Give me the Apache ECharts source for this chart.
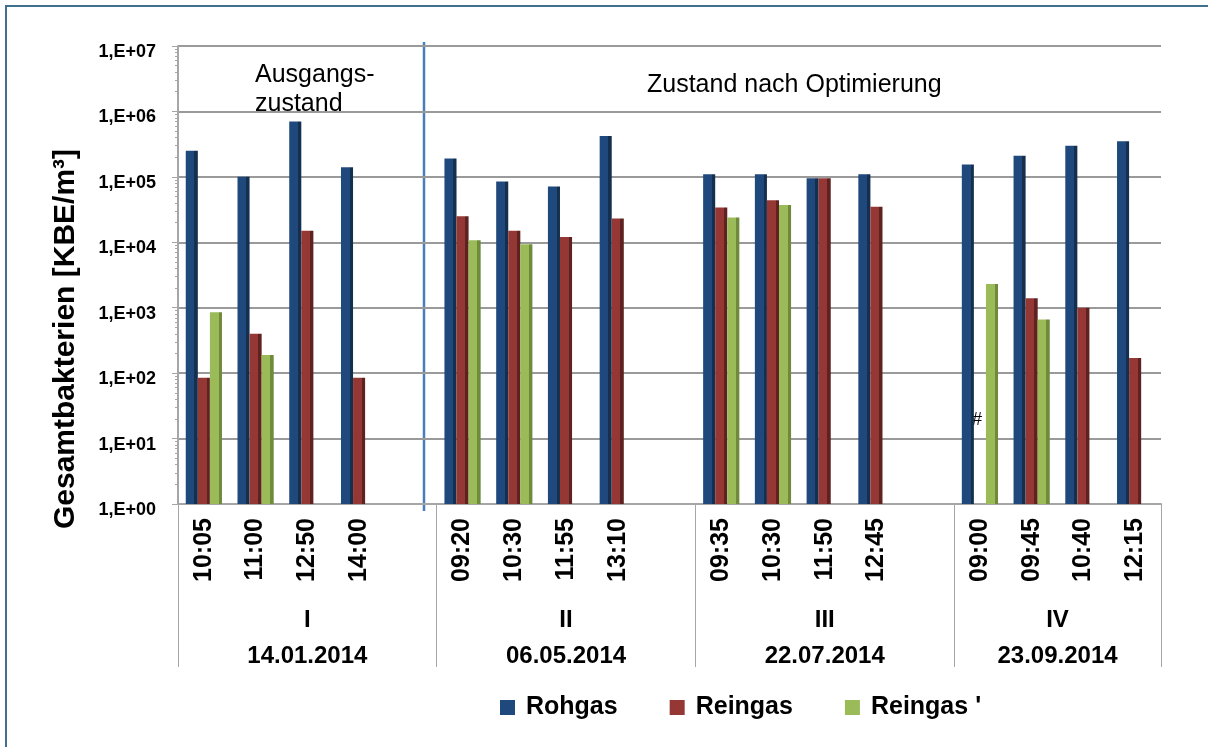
<!DOCTYPE html>
<html>
<head>
<meta charset="utf-8">
<script src="https://cdn.jsdelivr.net/npm/echarts@6/dist/echarts.min.js"></script>
<style>
  html, body { margin: 0; padding: 0; background: #fff; }
  #chart { width: 1208px; height: 747px; }
</style>
</head>
<body>
<div id="chart"></div>
<script>
// Messzeitpunkte (leere Einträge = Abstand zwischen den Messtagen)
const times = ['10:05', '11:00', '12:50', '14:00', '',
  '09:20', '10:30', '11:55', '13:10', '',
  '09:35', '10:30', '11:50', '12:45', '',
  '09:00', '09:45', '10:40', '12:15']

const groupLabels = ['I\n14.01.2014', 'II\n06.05.2014', 'III\n22.07.2014', 'IV\n23.09.2014']
const groupCenters = [2.5, 7.5, 12.5, 17]
const groupBounds = [0, 5, 10, 15, 19]

const rohgas = [2.5e5, 1.0e5, 7.0e5, 1.4e5, '-',
  1.9e5, 8.5e4, 7.1e4, 4.2e5, '-',
  1.1e5, 1.1e5, 9.5e4, 1.1e5, '-',
  1.55e5, 2.1e5, 3.0e5, 3.5e5]
const reingas = [85, 400, 1.5e4, 85, '-',
  2.5e4, 1.5e4, 1.2e4, 2.3e4, '-',
  3.4e4, 4.4e4, 9.5e4, 3.5e4, '-',
  '-', 1.4e3, 1.0e3, 170]
const reingas2 = [850, 190, '-', '-', '-',
  1.07e4, 9.3e3, '-', '-', '-',
  2.4e4, 3.7e4, '-', '-', '-',
  2.3e3, 660, '-', '-']

const font = "'Liberation Sans', Arial, sans-serif"

// Säule mit dunklerer Seitenfläche (angedeuteter 3D-Look)
function face (c, side) {
  return new echarts.graphic.LinearGradient(0, 0, 1, 0, [
    {offset: 0, color: c}, {offset: 0.72, color: c},
    {offset: 0.72, color: side}, {offset: 1, color: side}
  ])
}

const myChart = echarts.init(document.getElementById('chart'))

const option = {
  animation: false,
  grid: {left: 178, right: 47, top: 46, bottom: 243},
  legend: {
    left: 495,
    top: 690,
    icon: 'rect',
    itemWidth: 15,
    itemHeight: 15,
    itemGap: 52,
    textStyle: {fontFamily: font, fontWeight: 'bold', fontSize: 25, color: '#000', padding: [0, 0, 0, 6]},
    data: [
      {name: 'Rohgas', itemStyle: {color: '#1F497D'}},
      {name: 'Reingas', itemStyle: {color: '#953735'}},
      {name: "Reingas '", itemStyle: {color: '#9BBB59'}}
    ]
  },
  xAxis: [
    {
      type: 'category',
      data: times,
      axisLine: {lineStyle: {color: '#A6A6A6', width: 2}},
      axisTick: {interval: 0, length: 86, lineStyle: {color: '#A6A6A6'}},
      axisLabel: {
        interval: 0, rotate: 90, margin: 14,
        fontFamily: font, fontWeight: 'bold', fontSize: 25, color: '#000'
      }
    },
    {
      type: 'value',
      min: 0,
      max: 19,
      position: 'bottom',
      splitLine: {show: false},
      axisLine: {show: false},
      axisTick: {show: true, customValues: groupBounds, length: 163, lineStyle: {color: '#A6A6A6'}},
      axisLabel: {
        customValues: groupCenters,
        margin: 98,
        lineHeight: 36,
        fontFamily: font, fontWeight: 'bold', fontSize: 24, color: '#000',
        formatter: v => groupLabels[groupCenters.indexOf(v)] || ''
      }
    }
  ],
  yAxis: {
    type: 'log',
    logBase: 10,
    min: 1,
    max: 1e7,
    axisLine: {show: true, lineStyle: {color: '#A6A6A6', width: 2}},
    axisTick: {show: true, length: 6, lineStyle: {color: '#A6A6A6'}},
    minorTick: {show: true, splitNumber: 9, length: 3, lineStyle: {color: '#A6A6A6'}},
    splitLine: {lineStyle: {color: '#9A9A9A', width: 2}},
    axisLabel: {
      margin: 22,
      verticalAlign: 'top',
      lineHeight: 12,
      fontFamily: font, fontWeight: 'bold', fontSize: 18, color: '#000',
      formatter: v => '1,E+' + String(Math.round(Math.log10(v))).padStart(2, '0')
    }
  },
  series: [
    {
      name: 'Rohgas', type: 'bar', data: rohgas,
      barGap: '0%', barCategoryGap: '30%',
      itemStyle: {color: face('#1F497D', '#15304F')}
    },
    {
      name: 'Reingas', type: 'bar', data: reingas,
      itemStyle: {color: face('#953735', '#5E2221')}
    },
    {
      name: "Reingas '", type: 'bar', data: reingas2,
      itemStyle: {color: face('#9BBB59', '#6E8A3A')}
    }
  ],
  graphic: [
    {
      type: 'rect', silent: true,
      shape: {x: 6, y: 6, width: 1230, height: 770},
      style: {fill: 'none', stroke: '#41708C', lineWidth: 2}
    },
    {
      type: 'line', silent: true,
      shape: {x1: 424, y1: 42, x2: 424, y2: 511},
      style: {stroke: '#4A7EBB', lineWidth: 2.5}
    },
    {
      type: 'text', left: 255, top: 61,
      style: {text: 'Ausgangs-\nzustand', font: '25px ' + font, fill: '#000', lineHeight: 29}
    },
    {
      type: 'text', left: 647, top: 73,
      style: {text: 'Zustand nach Optimierung', font: '25px ' + font, fill: '#000'}
    },
    {
      type: 'text', left: 972, top: 411,
      style: {text: '#', font: '18px ' + font, fill: '#000'}
    },
    {
      type: 'text', x: 66, y: 339, rotation: Math.PI / 2,
      style: {
        text: 'Gesamtbakterien [KBE/m³]', font: 'bold 30px ' + font, fill: '#000',
        align: 'center', verticalAlign: 'middle'
      }
    }
  ]
}

myChart.setOption(option)
</script>
</body>
</html>
